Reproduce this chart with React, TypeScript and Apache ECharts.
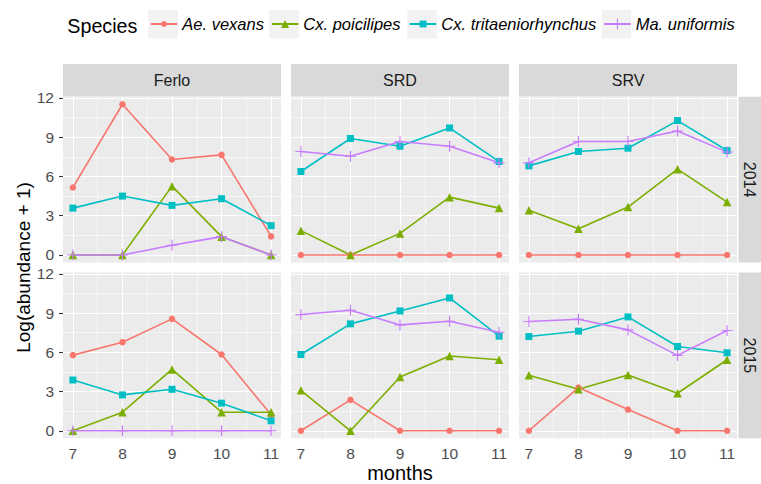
import React, { useEffect, useRef } from "react";
import * as echarts from "echarts";

// ---------- data ----------
const months = [7, 8, 9, 10, 11];
const yTicks = [0, 3, 6, 9, 12];
const speciesNames = ["Ae. vexans", "Cx. poicilipes", "Cx. tritaeniorhynchus", "Ma. uniformis"];
const sites = ["Ferlo", "SRD", "SRV"];
const years = ["2014", "2015"];

const ferlo2014Ae = [5.16, 11.52, 7.3, 7.65, 1.42];
const ferlo2014Cxp = [0, 0, 5.26, 1.4, 0];
const ferlo2014Cxt = [3.58, 4.5, 3.79, 4.3, 2.24];
const ferlo2014Ma = [0, 0, 0.74, 1.4, 0];

const srd2014Ae = [0, 0, 0, 0, 0];
const srd2014Cxp = [1.86, 0, 1.65, 4.42, 3.58];
const srd2014Cxt = [6.38, 8.9, 8.31, 9.71, 7.14];
const srd2014Ma = [7.91, 7.55, 8.67, 8.31, 7.04];

const srv2014Ae = [0, 0, 0, 0, 0];
const srv2014Cxp = [3.41, 2.01, 3.66, 6.56, 4.04];
const srv2014Cxt = [6.81, 7.91, 8.16, 10.27, 7.98];
const srv2014Ma = [7.04, 8.67, 8.67, 9.48, 7.86];

const ferlo2015Ae = [5.78, 6.77, 8.55, 5.83, 1.22];
const ferlo2015Cxp = [0, 1.42, 4.69, 1.42, 1.42];
const ferlo2015Cxt = [3.88, 2.74, 3.17, 2.11, 0.76];
const ferlo2015Ma = [0, 0, 0, 0, 0];

const srd2015Ae = [0, 2.36, 0, 0, 0];
const srd2015Cxp = [3.09, 0, 4.11, 5.71, 5.43];
const srd2015Cxt = [5.83, 8.17, 9.16, 10.15, 7.23];
const srd2015Ma = [8.88, 9.21, 8.09, 8.37, 7.53];

const srv2015Ae = [0, 3.3, 1.62, 0, 0];
const srv2015Cxp = [4.24, 3.17, 4.26, 2.87, 5.43];
const srv2015Cxt = [7.2, 7.61, 8.7, 6.44, 5.96];
const srv2015Ma = [8.35, 8.52, 7.71, 5.76, 7.66];

const panels: number[][][][] = [
  [
    [ferlo2014Ae, ferlo2014Cxp, ferlo2014Cxt, ferlo2014Ma],
    [srd2014Ae, srd2014Cxp, srd2014Cxt, srd2014Ma],
    [srv2014Ae, srv2014Cxp, srv2014Cxt, srv2014Ma],
  ],
  [
    [ferlo2015Ae, ferlo2015Cxp, ferlo2015Cxt, ferlo2015Ma],
    [srd2015Ae, srd2015Cxp, srd2015Cxt, srd2015Ma],
    [srv2015Ae, srv2015Cxp, srv2015Cxt, srv2015Ma],
  ],
];

// ---------- styling ----------
const FONT = "'Liberation Sans', Arial, Helvetica, sans-serif";
const colors = ["#F8766D", "#7CAE00", "#00BFC4", "#C77CFF"];
const PLUS = "path://M9,0H11V9H20V11H11V20H9V11H0V9H9Z";
const symbols = ["circle", "triangle", "rect", PLUS];
const symbolSizes = [6.5, 8.5, 7, 11];
const legendItemHeights = [7.5, 10, 8.5, 13];

const colLeft = [63, 291, 519];
const colW = 218;
const rowTop = [96.7, 272.5];
const rowH = 165.8;
const X_MIN = 6.8;
const X_MAX = 11.2;
const Y_MIN = -0.576;
const Y_MAX = 12.096;

const mid = (arr: number[]) => arr.slice(0, -1).map((v, i) => (v + arr[i + 1]) / 2);

export default function App() {
  const ref = useRef<HTMLDivElement>(null);

  useEffect(() => {
    if (!ref.current) return;
    const chart = echarts.init(ref.current, undefined, { renderer: "svg" });

    const grids: any[] = [];
    const xAxes: any[] = [];
    const yAxes: any[] = [];
    const series: any[] = [];
    const graphics: any[] = [];

    const gridLines = [
      ...months.map((m) => ({ xAxis: m, lineStyle: { width: 1.1 } })),
      ...mid(months).map((m) => ({ xAxis: m, lineStyle: { width: 0.55 } })),
      ...yTicks.map((v) => ({ yAxis: v, lineStyle: { width: 1.1 } })),
      ...mid(yTicks).map((v) => ({ yAxis: v, lineStyle: { width: 0.55 } })),
    ];

    for (let r = 0; r < 2; r++) {
      for (let c = 0; c < 3; c++) {
        const gi = r * 3 + c;
        grids.push({
          left: colLeft[c],
          top: rowTop[r],
          width: colW,
          height: rowH,
          show: true,
          backgroundColor: "#EBEBEB",
          borderWidth: 0,
          containLabel: false,
        });
        xAxes.push({
          gridIndex: gi,
          type: "value",
          min: X_MIN,
          max: X_MAX,
          axisLine: { show: false },
          splitLine: { show: false },
          axisTick: {
            show: r === 1,
            customValues: months,
            length: 4,
            lineStyle: { color: "#333333", width: 1.1 },
          },
          axisLabel: {
            show: r === 1,
            customValues: months,
            margin: 7,
            color: "#4D4D4D",
            fontSize: 15.5,
            fontFamily: FONT,
          },
        });
        yAxes.push({
          gridIndex: gi,
          type: "value",
          min: Y_MIN,
          max: Y_MAX,
          axisLine: { show: false },
          splitLine: { show: false },
          axisTick: {
            show: c === 0,
            customValues: yTicks,
            length: 4,
            lineStyle: { color: "#333333", width: 1.1 },
          },
          axisLabel: {
            show: c === 0,
            customValues: yTicks,
            margin: 9,
            color: "#4D4D4D",
            fontSize: 15.5,
            fontFamily: FONT,
          },
        });
        panels[r][c].forEach((vals, si) => {
          const s: any = {
            type: "line",
            name: speciesNames[si],
            xAxisIndex: gi,
            yAxisIndex: gi,
            data: months.map((m, i) => [m, vals[i]]),
            symbol: symbols[si],
            symbolSize: symbolSizes[si],
            showSymbol: true,
            clip: false,
            itemStyle: { color: colors[si] },
            lineStyle: { color: colors[si], width: 1.6 },
            emphasis: { disabled: true },
          };
          if (si === 0) {
            s.markLine = {
              silent: true,
              z: 1,
              symbol: ["none", "none"],
              label: { show: false },
              emphasis: { disabled: true },
              lineStyle: { color: "#FFFFFF", type: "solid" },
              data: gridLines,
            };
          }
          series.push(s);
        });
      }
    }

    // top strips
    sites.forEach((site, c) => {
      graphics.push({
        type: "rect",
        shape: { x: colLeft[c], y: 64, width: colW, height: 32.5 },
        style: { fill: "#D9D9D9" },
        silent: true,
      });
      graphics.push({
        type: "text",
        x: colLeft[c] + colW / 2,
        y: 80.5,
        style: {
          text: site,
          align: "center",
          verticalAlign: "middle",
          fill: "#1A1A1A",
          fontSize: 16,
          fontFamily: FONT,
        },
        silent: true,
      });
    });
    // right strips
    years.forEach((yr, r) => {
      graphics.push({
        type: "rect",
        shape: { x: 738.5, y: rowTop[r], width: 22.5, height: rowH },
        style: { fill: "#D9D9D9" },
        silent: true,
      });
      graphics.push({
        type: "text",
        x: 749.5,
        y: rowTop[r] + rowH / 2,
        rotation: -Math.PI / 2,
        style: {
          text: yr,
          align: "center",
          verticalAlign: "middle",
          fill: "#1A1A1A",
          fontSize: 16,
          fontFamily: FONT,
        },
        silent: true,
      });
    });

    // legend key boxes
    const keyLeft = [148.3, 269.3, 407.3, 601.7];
    keyLeft.forEach((x) => {
      graphics.push({
        type: "rect",
        shape: { x, y: 10, width: 29.5, height: 28.5 },
        style: { fill: "#F2F2F2" },
        silent: true,
        z: -1,
      });
    });
    graphics.push({
      type: "text",
      x: 67.3,
      y: 25.5,
      style: {
        text: "Species",
        align: "left",
        verticalAlign: "middle",
        fill: "#000000",
        fontSize: 19.7,
        fontFamily: FONT,
      },
      silent: true,
    });
    // axis titles
    graphics.push({
      type: "text",
      x: 23,
      y: 267.5,
      rotation: Math.PI / 2,
      style: {
        text: "Log(abundance + 1)",
        align: "center",
        verticalAlign: "middle",
        fill: "#000000",
        fontSize: 19,
        fontFamily: FONT,
      },
      silent: true,
    });
    graphics.push({
      type: "text",
      x: 400,
      y: 473,
      style: {
        text: "months",
        align: "center",
        verticalAlign: "middle",
        fill: "#000000",
        fontSize: 20,
        lineHeight: 20,
        fontFamily: FONT,
      },
      silent: true,
    });

    const legends = speciesNames.map((n, i) => ({
      data: [n],
      orient: "horizontal",
      left: keyLeft[i] + 1.5,
      top: 14,
      padding: 0,
      itemWidth: 26.5,
      itemHeight: legendItemHeights[i],
      selectedMode: false,
      textStyle: {
        fontStyle: "italic",
        fontSize: 16.5,
        color: "#000000",
        fontFamily: FONT,
        lineHeight: 20,
      },
    }));

    chart.setOption({
      animation: false,
      backgroundColor: "#FFFFFF",
      grid: grids,
      xAxis: xAxes,
      yAxis: yAxes,
      legend: legends,
      series,
      graphic: { elements: graphics },
    });

    return () => chart.dispose();
  }, []);

  return (
    <div
      ref={ref}
      style={{ position: "fixed", left: 0, top: 0, width: 761, height: 484 }}
    />
  );
}
